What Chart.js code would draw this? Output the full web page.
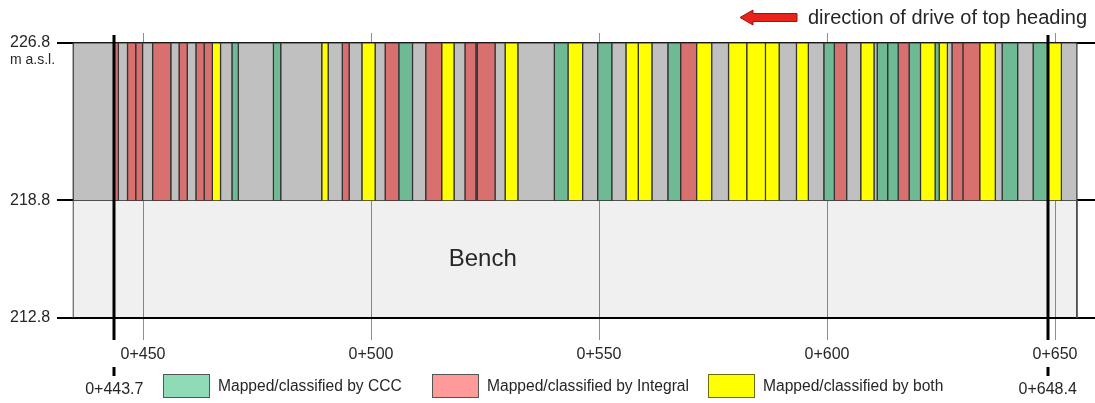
<!DOCTYPE html>
<html>
<head>
<meta charset="utf-8">
<script src="https://cdn.jsdelivr.net/npm/chart.js@4.4.1/dist/chart.umd.min.js"></script>
<style>
  html, body { margin: 0; padding: 0; background: #ffffff; }
  canvas { display: block; }
</style>
</head>
<body>
<canvas id="profile" width="1095" height="403"></canvas>
<script>
// Chainage (m) of every boundary between mapped strips along the top heading
const boundaries = [
  434.7, 443.7, 444.6, 446.6, 448.4, 449.9, 452.1, 456.1, 457.9, 459.7,
  461.6, 463.4, 465.2, 467.0, 469.5, 470.9, 478.6, 480.2, 489.2, 490.6,
  493.7, 495.2, 498.0, 500.9, 503.1, 506.1, 509.1, 512.0, 515.5, 518.2,
  520.6, 523.0, 523.3, 527.2, 529.4, 532.2, 540.2, 543.2, 546.4, 549.7,
  552.8, 555.9, 558.6, 561.6, 565.1, 567.9, 571.4, 574.7, 578.4, 582.4,
  586.5, 589.5, 593.3, 595.9, 599.3, 601.6, 604.3, 607.4, 610.3, 611.0,
  613.3, 615.6, 618.0, 620.5, 623.7, 624.6, 626.4, 627.4, 629.8, 633.5,
  636.9, 638.4, 641.8, 645.2, 648.4, 651.4, 654.8
];

// Who mapped/classified each strip (one entry per strip between boundaries)
const classes = [
  'none', 'integral', 'none', 'integral', 'integral', 'none', 'integral', 'none', 'integral', 'none',
  'integral', 'integral', 'both', 'none', 'ccc', 'none', 'ccc', 'none', 'both', 'none',
  'integral', 'none', 'both', 'none', 'integral', 'ccc', 'none', 'integral', 'both', 'none',
  'integral', 'none', 'integral', 'none', 'both', 'none', 'ccc', 'both', 'none', 'ccc',
  'none', 'both', 'both', 'none', 'ccc', 'integral', 'both', 'none', 'both', 'both',
  'both', 'none', 'both', 'none', 'ccc', 'integral', 'none', 'both', 'none', 'ccc',
  'ccc', 'integral', 'ccc', 'both', 'ccc', 'both', 'none', 'integral', 'integral', 'both',
  'none', 'ccc', 'none', 'ccc', 'both', 'none'
];

// Elevations (m a.s.l.)
const elevationTicks = [212.8, 218.8, 226.8];
const headingTop = 226.8;
const headingBottom = 218.8;
const benchBottom = 212.8;

// Chainage ticks and the limits of the mapped section
const chainageTicks = [450, 500, 550, 600, 650];
const sectionLimits = [443.7, 648.4];
const benchExtent = [434.7, 654.8];

const legendLabels = ['Mapped/classified by CCC', 'Mapped/classified by Integral', 'Mapped/classified by both'];
const legendClasses = ['ccc', 'integral', 'both'];

const stripColors = { none: '#c0c0c0', ccc: '#6fba94', integral: '#d97070', both: '#ffff00' };
const legendColors = { ccc: '#90dbb7', integral: '#ff9a9a', both: '#ffff00' };
const FONT = '"Liberation Sans", Arial, Helvetica, sans-serif';
const TEXT = '#262626';

const chainageLabel = v => '0+' + v;

// One filled outline per strip
const datasets = [];
for (let i = 0; i < classes.length; i++) {
  const s = boundaries[i], e = boundaries[i + 1];
  datasets.push({
    data: [
      { x: s, y: headingBottom }, { x: s, y: headingTop },
      { x: e, y: headingTop }, { x: e, y: headingBottom }
    ],
    backgroundColor: stripColors[classes[i]],
    borderColor: '#333333',
    borderWidth: 1.2,
    fill: { value: headingBottom },
    order: 0
  });
}
// Bench below the top heading
datasets.push({
  data: [
    { x: benchExtent[0], y: benchBottom }, { x: benchExtent[0], y: headingBottom },
    { x: benchExtent[1], y: headingBottom }, { x: benchExtent[1], y: benchBottom }
  ],
  backgroundColor: 'rgba(0,0,0,0.06)',
  borderColor: '#444444',
  borderWidth: 1,
  fill: { value: benchBottom },
  order: 1
});

const decorations = {
  id: 'decorations',
  afterDraw(chart) {
    const { ctx, scales: { x, y }, chartArea } = chart;
    ctx.save();

    // Section limits
    ctx.strokeStyle = '#000';
    ctx.lineWidth = 3;
    sectionLimits.forEach(v => {
      const px = Math.round(x.getPixelForValue(v));
      ctx.beginPath();
      ctx.moveTo(px, chartArea.top + 2);
      ctx.lineTo(px, chartArea.bottom);
      ctx.moveTo(px, 367);
      ctx.lineTo(px, 376);
      ctx.stroke();
    });

    ctx.fillStyle = TEXT;
    ctx.textBaseline = 'middle';

    // Elevation labels
    ctx.font = '16px ' + FONT;
    ctx.textAlign = 'left';
    elevationTicks.forEach(v => {
      ctx.fillText(v.toFixed(1), 10, y.getPixelForValue(v));
    });
    ctx.font = '14px ' + FONT;
    ctx.fillText('m a.s.l.', 10, y.getPixelForValue(headingTop) + 17);

    // Chainage labels
    ctx.font = '16px ' + FONT;
    ctx.textAlign = 'center';
    chainageTicks.forEach(v => {
      ctx.fillText(chainageLabel(v), x.getPixelForValue(v), 355);
    });
    sectionLimits.forEach(v => {
      ctx.fillText(chainageLabel(v), x.getPixelForValue(v), 390);
    });

    // Bench label
    ctx.font = '24px ' + FONT;
    ctx.fillText('Bench', x.getPixelForValue(524.5), y.getPixelForValue((headingBottom + benchBottom) / 2));

    // Drive direction
    ctx.fillStyle = '#e8231b';
    ctx.strokeStyle = '#9c1510';
    ctx.lineWidth = 1;
    ctx.beginPath();
    ctx.moveTo(740, 17.5);
    ctx.lineTo(753, 10);
    ctx.lineTo(753, 13.5);
    ctx.lineTo(797, 13.5);
    ctx.lineTo(797, 21.5);
    ctx.lineTo(753, 21.5);
    ctx.lineTo(753, 25);
    ctx.closePath();
    ctx.fill();
    ctx.stroke();
    ctx.fillStyle = TEXT;
    ctx.font = '20px ' + FONT;
    ctx.textAlign = 'left';
    ctx.fillText('direction of drive of top heading', 808, 18);

    // Legend
    const boxX = [163, 432, 708];
    ctx.font = '15.6px ' + FONT;
    legendClasses.forEach((c, i) => {
      ctx.fillStyle = legendColors[c];
      ctx.fillRect(boxX[i], 374, 47, 24);
      ctx.strokeStyle = c === 'both' ? '#6b6b10' : '#555555';
      ctx.lineWidth = 1;
      ctx.strokeRect(boxX[i] + 0.5, 374.5, 46, 23);
      ctx.fillStyle = TEXT;
      ctx.fillText(legendLabels[i], boxX[i] + 55, 387);
    });

    ctx.restore();
  }
};

new Chart(document.getElementById('profile'), {
  type: 'line',
  data: { datasets },
  options: {
    responsive: false,
    animation: false,
    devicePixelRatio: 1,
    layout: { padding: { left: 57, right: 0, top: 33, bottom: 63 } },
    plugins: { legend: { display: false }, tooltip: { enabled: false }, title: { display: false } },
    elements: { point: { radius: 0, hoverRadius: 0 }, line: { tension: 0, borderJoinStyle: 'miter' } },
    scales: {
      x: {
        type: 'linear', min: 431.14, max: 658.77, z: 0,
        afterBuildTicks: s => { s.ticks = chainageTicks.map(v => ({ value: v })); },
        ticks: { display: false },
        grid: { color: '#8f8f8f', lineWidth: 1, drawTicks: false },
        border: { display: false }
      },
      y: {
        type: 'linear', min: 211.68, max: 227.31, z: 1,
        afterBuildTicks: s => { s.ticks = elevationTicks.map(v => ({ value: v })); },
        ticks: { display: false },
        grid: { color: '#000000', lineWidth: 2, drawTicks: false },
        border: { display: false }
      }
    }
  },
  plugins: [decorations]
});
</script>
</body>
</html>
